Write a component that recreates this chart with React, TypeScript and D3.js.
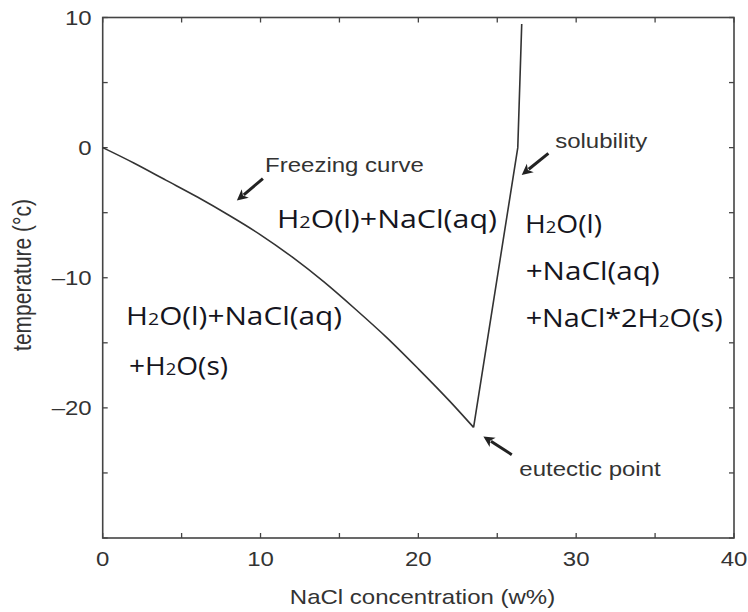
import React from "react";
import * as d3 from "d3";

// ---- data ----
const freezeConc = [0, 2, 4, 6, 8, 10, 12, 14, 16, 18, 20, 22, 23.5];
const freezeTemp = [0, -1.2, -2.5, -3.8, -5.2, -6.7, -8.4, -10.3, -12.4, -14.6, -17.0, -19.5, -21.5];
const solConc = [23.5, 26.3, 26.55];
const solTemp = [-21.5, 0, 9.5];

const xTicks = [0, 5, 10, 15, 20, 25, 30, 35, 40];
const xTickLabels = [0, 10, 20, 30, 40];
const yTicks = [-30, -25, -20, -15, -10, -5, 0, 5, 10];
const yTickLabels = [10, 0, -10, -20];

// annotations
const annotLabels = ["Freezing curve", "solubility", "eutectic point"];
const annotText = [[10.29, -1.87], [28.67, -0.05], [26.4, -25.2]];
const annotTail = [[10.15, -2.38], [28.24, -0.44], [25.92, -23.6]];
const annotTip = [[8.5, -4.07], [26.55, -2.1], [24.12, -22.2]];

// region labels
type Seg = { t: string; sub?: boolean };
const regionLines: { x: number; y: number; w: number; segs: Seg[] }[] = [
  { x: 11.04, y: -6.17, w: 220, segs: [{ t: "H" }, { t: "2", sub: true }, { t: "O(l)+NaCl(aq)" }] },
  { x: 1.48, y: -13.62, w: 216, segs: [{ t: "H" }, { t: "2", sub: true }, { t: "O(l)+NaCl(aq)" }] },
  { x: 1.67, y: -17.46, w: 99, segs: [{ t: "+H" }, { t: "2", sub: true }, { t: "O(s)" }] },
  { x: 26.76, y: -6.58, w: 77, segs: [{ t: "H" }, { t: "2", sub: true }, { t: "O(l)" }] },
  { x: 26.8, y: -10.17, w: 134, segs: [{ t: "+NaCl(aq)" }] },
  { x: 26.8, y: -13.75, w: 197, segs: [{ t: "+NaCl*2H" }, { t: "2", sub: true }, { t: "O(s)" }] },
];

const W = 748;
const H = 612;
const left = 102.7, right = 734, top = 17.5, bottom = 538;
const axisColor = "#444";
const textColor = "#333";
const axisFont = "'Liberation Sans', Arial, sans-serif";
const regionFont = "'Open Sans', 'Noto Sans', sans-serif";
const SX = 1.2;

export default function App() {
  const x = d3.scaleLinear().domain([0, 40]).range([left, right]);
  const y = d3.scaleLinear().domain([-30, 10]).range([bottom, top]);

  const freezePath = d3
    .line<[number, number]>()
    .x((d) => x(d[0]))
    .y((d) => y(d[1]))
    .curve(d3.curveMonotoneX)(freezeConc.map((c, i) => [c, freezeTemp[i]] as [number, number]));
  const solPath = d3
    .line<[number, number]>()
    .x((d) => x(d[0]))
    .y((d) => y(d[1]))(solConc.map((c, i) => [c, solTemp[i]] as [number, number]));

  const tickLen = 5;

  const arrow = (i: number) => {
    const x1 = x(annotTail[i][0]), y1 = y(annotTail[i][1]);
    const x2 = x(annotTip[i][0]), y2 = y(annotTip[i][1]);
    const ang = Math.atan2(y2 - y1, x2 - x1);
    const hl = 11, hw = 5.5;
    const bx = x2 - hl * Math.cos(ang), by = y2 - hl * Math.sin(ang);
    const px = -Math.sin(ang), py = Math.cos(ang);
    const head = `M${x2},${y2}L${bx + hw * px},${by + hw * py}L${bx + 3 * Math.cos(ang)},${by + 3 * Math.sin(ang)}L${bx - hw * px},${by - hw * py}Z`;
    return (
      <g key={"a" + i}>
        <line x1={x1} y1={y1} x2={bx + 2 * Math.cos(ang)} y2={by + 2 * Math.sin(ang)} stroke="#222" strokeWidth={3} />
        <path d={head} fill="#222" />
      </g>
    );
  };

  return (
    <svg width={W} height={H} style={{ position: "absolute", left: 0, top: 0 }}>
      <rect width={W} height={H} fill="#fff" />
      <rect x={left} y={top} width={right - left} height={bottom - top} fill="none" stroke={axisColor} strokeWidth={1.6} />
      {xTicks.map((t) => (
        <g key={"xt" + t}>
          <line x1={x(t)} x2={x(t)} y1={bottom} y2={bottom - tickLen} stroke={axisColor} strokeWidth={1.3} />
          <line x1={x(t)} x2={x(t)} y1={top} y2={top + tickLen} stroke={axisColor} strokeWidth={1.3} />
        </g>
      ))}
      {yTicks.map((t) => (
        <g key={"yt" + t}>
          <line y1={y(t)} y2={y(t)} x1={left} x2={left + tickLen} stroke={axisColor} strokeWidth={1.3} />
          <line y1={y(t)} y2={y(t)} x1={right} x2={right - tickLen} stroke={axisColor} strokeWidth={1.3} />
        </g>
      ))}
      {xTickLabels.map((t) => (
        <text
          key={"xl" + t}
          transform={`translate(${x(t)},${566}) scale(${SX},1)`}
          textAnchor="middle"
          fontFamily={axisFont}
          fontSize={20}
          fill={textColor}
        >
          {t}
        </text>
      ))}
      {yTickLabels.map((t) => (
        <text
          key={"yl" + t}
          transform={`translate(${left - 11},${y(t) + 7}) scale(${SX},1)`}
          textAnchor="end"
          fontFamily={axisFont}
          fontSize={20}
          fill={textColor}
        >
          {t < 0 ? "\u2013" + Math.abs(t) : t}
        </text>
      ))}
      <text
        transform={`translate(${422.5},${604}) scale(${SX},1)`}
        textAnchor="middle"
        fontFamily={axisFont}
        fontSize={20}
        fill={textColor}
      >
        NaCl concentration (w%)
      </text>
      <text
        transform={`translate(${31},${275}) rotate(-90) scale(1,${SX})`}
        textAnchor="middle"
        fontFamily={axisFont}
        fontSize={21}
        fill={textColor}
      >
        temperature (°c)
      </text>
      <path d={freezePath || ""} fill="none" stroke="#333" strokeWidth={1.6} />
      <path d={solPath || ""} fill="none" stroke="#333" strokeWidth={1.6} />
      {annotLabels.map((lab, i) => (
        <text
          key={"an" + i}
          transform={`translate(${x(annotText[i][0])},${y(annotText[i][1])}) scale(${SX},1)`}
          fontFamily={axisFont}
          fontSize={20}
          fill={textColor}
        >
          {lab}
        </text>
      ))}
      {annotLabels.map((_, i) => arrow(i))}
      {regionLines.map((r, i) => (
        <text
          key={"r" + i}
          x={x(r.x)}
          y={y(r.y)}
          fontFamily={regionFont}
          fontSize={26}
          fill="#151520"
          textLength={r.w}
          lengthAdjust="spacingAndGlyphs"
        >
          {r.segs.map((s, j) => (
            <tspan key={j} fontSize={s.sub ? 17 : 26}>
              {s.t}
            </tspan>
          ))}
        </text>
      ))}
    </svg>
  );
}
